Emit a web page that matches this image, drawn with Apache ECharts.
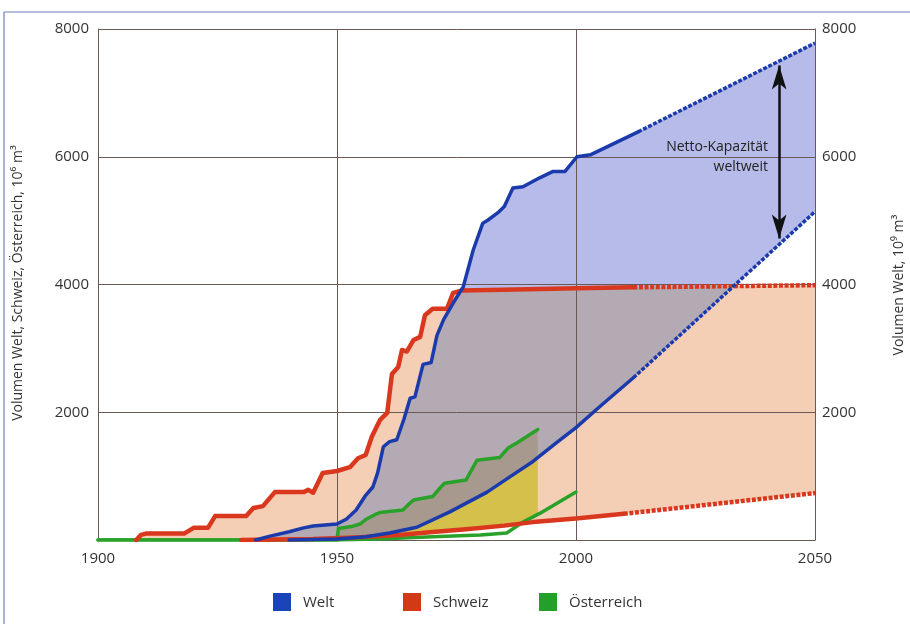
<!DOCTYPE html>
<html>
<head>
<meta charset="utf-8">
<script src="https://cdn.jsdelivr.net/npm/echarts@6/dist/echarts.min.js"></script>
<style>html,body{margin:0;padding:0;background:#fff}#c{width:910px;height:624px}</style>
</head>
<body>
<div id="c"></div>
<script>
// ---- data (year, volume) ----
const xTicks = [1900, 1950, 2000, 2050];
const yTicks = [0, 2000, 4000, 6000, 8000];
const legendNames = ['Welt', 'Schweiz', 'Österreich'];

const weltUpper = [[1933,0],[1936,60],[1940,130],[1943,190],[1945,220],[1950,250],[1952,330],[1954,470],[1956,700],[1957.5,830],[1958.5,1050],[1959.7,1460],[1961,1540],[1962.5,1570],[1964,1890],[1965.3,2220],[1966.3,2240],[1968,2750],[1969.7,2780],[1970.9,3200],[1972.3,3450],[1974.3,3710],[1976.4,3960],[1978.5,4540],[1980.5,4960],[1981.6,5010],[1983.6,5120],[1985,5220],[1986.8,5510],[1988.9,5530],[1992.4,5670],[1995.2,5770],[1997.7,5770],[2000.2,6000],[2003,6030],[2013,6390]];
const weltUpperProj = [[2013,6390],[2050,7780]];
const weltLower = [[1940,0],[1950,15],[1956,50],[1961,110],[1966.7,200],[1973.6,440],[1981.4,750],[1986,980],[1991,1230],[1996,1530],[2000,1760],[2005,2090],[2012,2540]];
const weltLowerProj = [[2012,2540],[2050,5140]];

const schweizUpper = [[1908,0],[1909,80],[1910,100],[1918,100],[1920,190],[1923,190],[1924.5,375],[1931,375],[1932.5,500],[1934.5,530],[1937,750],[1943,750],[1944,785],[1945,740],[1947,1050],[1950,1080],[1952.7,1140],[1954.4,1280],[1956,1330],[1957.3,1620],[1959,1880],[1960.5,1990],[1961.5,2600],[1962.8,2710],[1963.6,2975],[1964.6,2950],[1966,3130],[1967.4,3180],[1968.4,3520],[1970,3620],[1973,3620],[1974.3,3870],[1976,3905],[1990,3925],[2000,3940],[2012,3955]];
const schweizUpperProj = [[2012,3955],[2050,3990]];
const schweizLower = [[1930,0],[1945,15],[1955,45],[1963,80],[1970,125],[1977,170],[1985,225],[1991,280],[2000,335],[2010,410]];
const schweizLowerProj = [[2010,410],[2050,735]];

const oesterreichUpper = [[1900,0],[1950,0],[1950.3,180],[1953,210],[1954.8,250],[1956,320],[1958,400],[1959,430],[1963.8,470],[1965,560],[1966,625],[1970,680],[1971.5,810],[1972.5,890],[1977,940],[1979.3,1250],[1984,1290],[1985.8,1440],[1987.6,1520],[1992,1730]];
const oesterreichLower = [[1900,0],[1950,0],[1960,20],[1970,50],[1980,80],[1985.5,110],[1988.9,280],[1992.5,420],[2000,750]];

// ---- helpers ----
function full(a, b) { return a.concat(b.slice(1)); }
const WU = full(weltUpper, weltUpperProj), WL = full(weltLower, weltLowerProj);
const SU = full(schweizUpper, schweizUpperProj), SL = full(schweizLower, schweizLowerProj);
const OU = oesterreichUpper, OL = oesterreichLower;

function interp(arr, x, clamp) {
  if (x < arr[0][0]) return clamp ? arr[0][1] : null;
  if (x > arr[arr.length-1][0]) return clamp ? arr[arr.length-1][1] : null;
  for (let i = 1; i < arr.length; i++) {
    if (x <= arr[i][0]) {
      const [x0,y0] = arr[i-1], [x1,y1] = arr[i];
      if (x1 === x0) return y1;
      return y0 + (y1-y0)*(x-x0)/(x1-x0);
    }
  }
  return arr[arr.length-1][1];
}
function region(uppers, lowers, xmin, xmax) {
  const xsSet = new Set();
  [...uppers, ...lowers].forEach(a => a.forEach(p => { if (p[0]>=xmin && p[0]<=xmax) xsSet.add(p[0]); }));
  for (let x = xmin; x <= xmax + 1e-9; x += 0.1) xsSet.add(Math.round(x*100)/100);
  const xs = [...xsSet].sort((a,b)=>a-b);
  const top = [], bot = [];
  xs.forEach(x => {
    let hi = Infinity, lo = -Infinity, ok = true;
    uppers.forEach(a => { const v = interp(a, x, false); if (v === null) ok = false; else hi = Math.min(hi, v); });
    lowers.forEach(a => { const v = interp(a, x, true); lo = Math.max(lo, v); });
    if (!ok) return;
    if (hi < lo) hi = lo;
    top.push([x, hi]); bot.push([x, lo]);
  });
  return top.concat(bot.reverse());
}

const bands = [
  { pts: region([SU], [SL], 1908, 2050), fill: '#f5cfb5' },
  { pts: region([WU], [WL], 1933, 2050), fill: '#b6bbe9' },
  { pts: region([WU, SU], [WL, SL], 1933, 2050), fill: '#b3aab4' },
  { pts: region([OU, WL, SU], [OL, SL], 1950, 1992), fill: '#d6c04c' },
  { pts: region([OU, WU, SU], [OL, WL, SL], 1950, 1992), fill: '#a8998f' }
];

const BLUE = '#1b3aab', RED = '#d9381e', GREEN = '#2aa22a';
const dash = [4, 1.6];

function lineSeries(data, color, width, dashed, z) {
  return {
    type: 'line', data: data, showSymbol: false, symbol: 'none', silent: true,
    z: z, animation: false,
    lineStyle: { color: color, width: width, type: dashed ? dash : 'solid', cap: dashed ? 'butt' : 'round', join: 'round' }
  };
}

const series = [];
bands.forEach((b, i) => {
  series.push({
    type: 'custom', z: 1 + i*0.01, silent: true, animation: false,
    data: [[1950, 0]],
    renderItem: function (params, api) {
      return { type: 'polygon', shape: { points: b.pts.map(p => api.coord(p)) }, style: { fill: b.fill } };
    }
  });
});
series.push(lineSeries(oesterreichUpper, GREEN, 3.5, false, 5));
series.push(lineSeries(oesterreichLower, GREEN, 3.5, false, 5));
series.push(lineSeries(schweizUpper, RED, 4.5, false, 6));
series.push(lineSeries(schweizUpperProj, RED, 4.5, true, 6));
series.push(lineSeries(schweizLower, RED, 4.5, false, 6));
series.push(lineSeries(schweizLowerProj, RED, 4.5, true, 6));
series.push(lineSeries(weltUpper, BLUE, 3.5, false, 7));
series.push(lineSeries(weltUpperProj, BLUE, 3.5, true, 7));
series.push(lineSeries(weltLower, BLUE, 3.5, false, 7));
series.push(lineSeries(weltLowerProj, BLUE, 3.5, true, 7));
series.push({
  type: 'line', data: [], z: 8, silent: true,
  markLine: {
    silent: true, animation: false, symbol: ['arrow', 'arrow'], symbolSize: [11, 24],
    lineStyle: { color: '#111', width: 2.5, type: 'solid' }, label: { show: false },
    data: [[{ coord: [2042.5, 7430] }, { coord: [2042.5, 4720] }]]
  }
});

const axisColor = '#6a5a55';
const font = '"Open Sans", sans-serif';
const chart = echarts.init(document.getElementById('c'), null, { renderer: 'canvas' });

const yAxisBase = {
  type: 'value', min: 0, max: 8000, interval: 2000, z: 3,
  axisLine: { show: true, lineStyle: { color: axisColor, width: 1 } },
  axisTick: { show: false },
  splitLine: { show: true, lineStyle: { color: axisColor, width: 1 } },
  axisLabel: { color: '#333', fontSize: 15, fontFamily: font,
    formatter: v => (v === 0 ? '' : String(v)) }
};

const legendX = [273, 403, 539];
const legendColors = ['#1a45b8', '#d23a16', '#22a02a'];
const graphic = [
  { type: 'line', shape: { x1: 4, y1: 12, x2: 910, y2: 12 }, style: { stroke: '#6a7fc0', lineWidth: 1.2 } },
  { type: 'line', shape: { x1: 4, y1: 12, x2: 4, y2: 624 }, style: { stroke: '#6a7fc0', lineWidth: 1.2 } },
  { type: 'text', x: 18, y: 283, rotation: Math.PI/2, style: { text: 'Volumen Welt, Schweiz, Österreich, 10⁶ m³', fill: '#333', font: '14px ' + font, align: 'center', verticalAlign: 'middle' } },
  { type: 'text', x: 899, y: 285, rotation: Math.PI/2, style: { text: 'Volumen Welt, 10⁹ m³', fill: '#333', font: '14px ' + font, align: 'center', verticalAlign: 'middle' } },
  { type: 'text', x: 768, y: 147, z: 10, style: { text: 'Netto-Kapazität', fill: '#222', font: '14px ' + font, align: 'right', verticalAlign: 'middle' } },
  { type: 'text', x: 768, y: 167, z: 10, style: { text: 'weltweit', fill: '#222', font: '14px ' + font, align: 'right', verticalAlign: 'middle' } }
];
legendNames.forEach((n, i) => {
  graphic.push({ type: 'rect', shape: { x: legendX[i], y: 593, width: 18, height: 18 }, style: { fill: legendColors[i] } });
  graphic.push({ type: 'text', x: legendX[i] + 30, y: 603, style: { text: n, fill: '#333', font: '15px ' + font, align: 'left', verticalAlign: 'middle' } });
});

chart.setOption({
  animation: false,
  backgroundColor: '#fff',
  grid: { left: 98, right: 95, top: 29, bottom: 84, containLabel: false },
  xAxis: {
    type: 'value', min: 1900, max: 2050, interval: 50, z: 3,
    axisLine: { show: true, lineStyle: { color: axisColor, width: 1 } },
    axisTick: { show: false },
    splitLine: { show: true, lineStyle: { color: axisColor, width: 1 } },
    axisLabel: { color: '#333', fontSize: 15, fontFamily: font, margin: 11,
      formatter: v => (xTicks.indexOf(v) >= 0 ? String(v) : '') }
  },
  yAxis: [
    Object.assign({}, yAxisBase, { position: 'left', axisLabel: Object.assign({}, yAxisBase.axisLabel, { margin: 9 }) }),
    Object.assign({}, yAxisBase, { position: 'right', splitLine: { show: false }, axisLabel: Object.assign({}, yAxisBase.axisLabel, { margin: 7 }) })
  ],
  series: series,
  graphic: graphic
});
</script>
</body>
</html>
